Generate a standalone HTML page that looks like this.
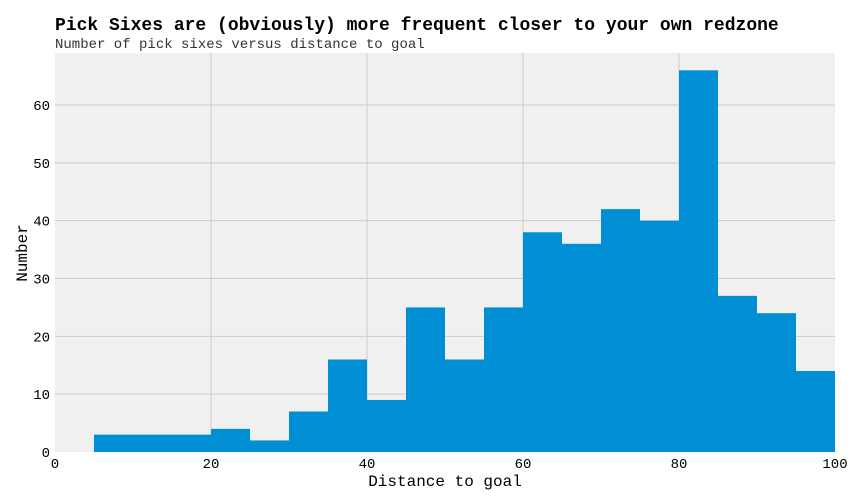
<!DOCTYPE html>
<html><head><meta charset="utf-8"><style>
body{margin:0;background:#fff;}
svg{display:block;font-family:"Liberation Mono",monospace;}
</style></head><body>
<svg id="chart" width="864" height="504">
<text x="55" y="30" font-size="18" font-weight="bold" fill="#000">Pick Sixes are (obviously) more frequent closer to your own redzone</text>
<text x="55" y="48" font-size="14" fill="#333">Number of pick sixes versus distance to goal</text>
<rect x="55" y="53" width="780" height="399" fill="#f0f0f0"/>
<g id="grid"></g><g id="bars"></g><g id="ticks"></g>
<text x="445" y="486" font-size="16" text-anchor="middle" fill="#000">Distance to goal</text>
<text transform="translate(27,253) rotate(-90)" font-size="16" text-anchor="middle" fill="#000">Number</text>
</svg>
<script>
const binStarts=[5,10,15,20,25,30,35,40,45,50,55,60,65,70,75,80,85,90,95];
const counts=[3,3,3,4,2,7,16,9,25,16,25,38,36,42,40,66,27,24,14];
const binWidth=5;
const xTicks=[0,20,40,60,80,100];
const yTicks=[0,10,20,30,40,50,60];
const X0=55,X1=835,Y0=452,YTOP=53;
const xs=v=>X0+(v/100)*(X1-X0);
const ys=v=>Y0-v*5.783;
const NS="http://www.w3.org/2000/svg";
const grid=document.getElementById('grid'),bars=document.getElementById('bars'),ticks=document.getElementById('ticks');
function mk(tag,attrs,parent){const e=document.createElementNS(NS,tag);for(const k in attrs)e.setAttribute(k,attrs[k]);parent.appendChild(e);return e;}
xTicks.forEach(t=>{
 if(t>0&&t<100){const l=mk('line',{x1:xs(t),x2:xs(t),y1:YTOP,y2:Y0,stroke:'#cbcbcb','stroke-width':1},grid);
 
 }
 const tx=mk('text',{x:xs(t),y:468,'font-size':14,'text-anchor':'middle',fill:'#000'},ticks);tx.textContent=t;
 
 
});
yTicks.forEach(t=>{
 if(t>0){const l=mk('line',{x1:X0,x2:X1,y1:ys(t),y2:ys(t),stroke:'#cbcbcb','stroke-width':1},grid);
 
 }
 const tx=mk('text',{x:50,y:ys(t)+5,'font-size':14,'text-anchor':'end',fill:'#000'},ticks);tx.textContent=t;
 
 
});
binStarts.forEach((s,i)=>{
 const r=mk('rect',{x:xs(s),y:ys(counts[i]),width:xs(s+binWidth)-xs(s),height:Y0-ys(counts[i]),fill:'#008fd5'},bars);
 
 
});
</script>
</body></html>
